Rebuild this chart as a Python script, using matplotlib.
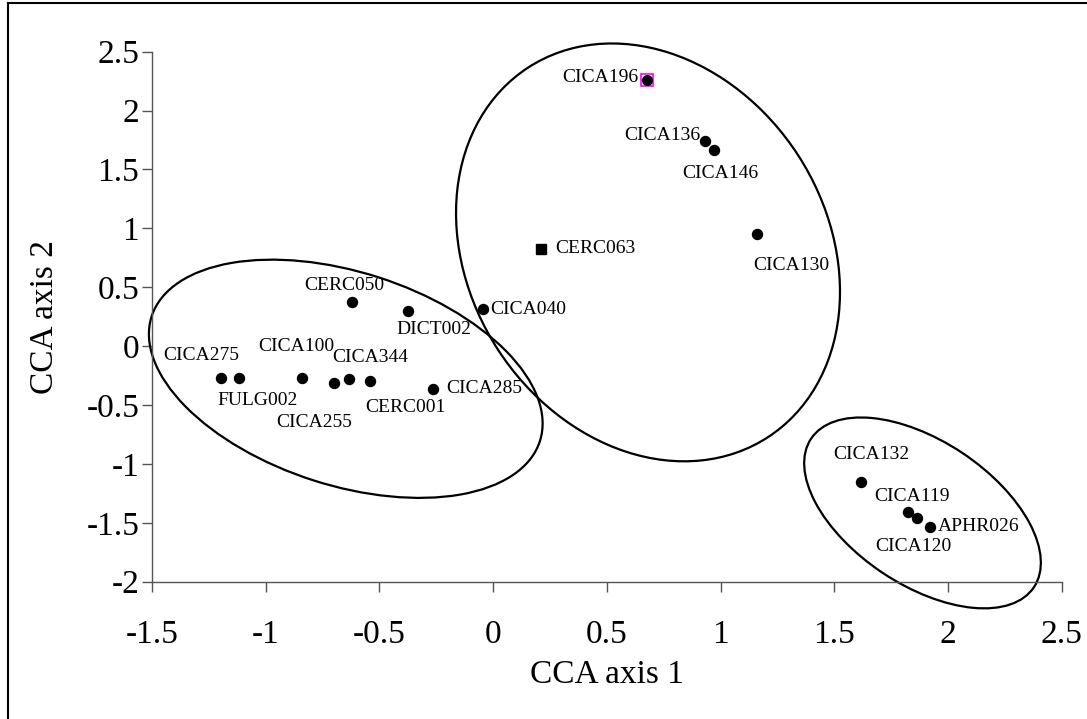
import matplotlib
matplotlib.use("Agg")
import matplotlib.pyplot as plt
from matplotlib.patches import Ellipse
from matplotlib.lines import Line2D
import matplotlib.transforms as mtransforms

plt.rcParams['font.family'] = ['Liberation Serif', 'DejaVu Serif']

# ---- data ----
labels = ["CICA275", "FULG002", "CICA100", "CICA255", "CICA344", "CERC001",
          "CICA285", "CERC050", "DICT002", "CICA040", "CICA196", "CICA136",
          "CICA146", "CERC063", "CICA130", "CICA132", "CICA119", "CICA120",
          "APHR026"]
axis1 = [-1.197, -1.117, -0.840, -0.698, -0.635, -0.541,
         -0.263, -0.619, -0.374, -0.043, 0.678, 0.932,
         0.970, 0.211, 1.160, 1.618, 1.823, 1.863,
         1.920]
axis2 = [-0.267, -0.267, -0.267, -0.312, -0.281, -0.296,
         -0.361, 0.373, 0.296, 0.313, 2.260, 1.745,
         1.668, 0.825, 0.952, -1.153, -1.410, -1.458,
         -1.532]
kind = ["o"] * 13 + ["s"] + ["o"] * 5

xticks = [-1.5, -1, -0.5, 0, 0.5, 1, 1.5, 2, 2.5]
xticklabels = ["-1.5", "-1", "-0.5", "0", "0.5", "1", "1.5", "2", "2.5"]
yticks = [-2, -1.5, -1, -0.5, 0, 0.5, 1, 1.5, 2, 2.5]
yticklabels = ["-2", "-1.5", "-1", "-0.5", "0", "0.5", "1", "1.5", "2", "2.5"]

# group ellipses: centre (data units), full width / height (inches), angle (deg)
ell_centres = [(-0.648, -0.277), (0.681, 0.796), (1.888, -1.416)]
ell_sizes = [(4.078, 2.132, -17.8), (4.406, 3.576, -57.1), (2.678, 1.44, -33.7)]

# label layout: offset in pixels (dx, dy) and horizontal alignment
label_layout = {
    "CICA275": (-20, 22, "center"), "FULG002": (18, -23, "center"),
    "CICA100": (-6, 31, "center"), "CICA255": (-20, -40, "center"),
    "CICA344": (22, 22, "center"), "CERC001": (35, -26, "center"),
    "CICA285": (13, 0, "left"), "CERC050": (-8, 17, "center"),
    "DICT002": (26, -18, "center"), "CICA040": (7, 0, "left"),
    "CICA196": (-9, 2, "right"), "CICA136": (-5, 5, "right"),
    "CICA146": (7, -24, "center"), "CERC063": (14, 0, "left"),
    "CICA130": (34, -31, "center"), "CICA132": (10, 27, "center"),
    "CICA119": (4, 16, "center"), "CICA120": (-3, -29, "center"),
    "APHR026": (8, 0, "left"),
}

fig = plt.figure(figsize=(10.87, 7.19), dpi=100)
ax = fig.add_axes([152 / 1087, 137.3 / 719, 909.7 / 1087, 530 / 719])

for name, xv, yv, mk in zip(labels, axis1, axis2, kind):
    if name == "CICA196":
        ax.plot([xv], [yv], marker="s", ms=8, mfc="none", mec="magenta",
                mew=1.2, ls="none", zorder=3)
        ax.plot([xv], [yv], marker="o", ms=7, color="black", ls="none", zorder=4)
    elif mk == "s":
        ax.plot([xv], [yv], marker="s", ms=7, color="black", ls="none", zorder=3)
    else:
        ax.plot([xv], [yv], marker="o", ms=7.2, color="black", ls="none", zorder=3)
    dx, dy, ha = label_layout[name]
    ax.annotate(name, (xv, yv), xytext=(dx, dy), textcoords="offset pixels",
                ha=ha, va="center", fontsize=14, color="black")

for (cx, cy), (w_, h_, ang) in zip(ell_centres, ell_sizes):
    tr = fig.dpi_scale_trans + mtransforms.ScaledTranslation(cx, cy, ax.transData)
    e = Ellipse((0, 0), w_, h_, angle=ang, transform=tr, fill=False,
                edgecolor="black", lw=1.6, zorder=2, clip_on=False)
    ax.add_patch(e)

ax.set_xlim(-1.5, 2.5)
ax.set_ylim(-2, 2.5)
ax.set_xticks(xticks)
ax.set_xticklabels(xticklabels)
ax.set_yticks(yticks)
ax.set_yticklabels(yticklabels)
for s_ in ("top", "right"):
    ax.spines[s_].set_visible(False)
for s_ in ("left", "bottom"):
    ax.spines[s_].set_color("#555555")
    ax.spines[s_].set_linewidth(1.0)
ax.tick_params(axis="both", direction="out", length=7.2, width=1.0,
               color="#555555", labelsize=24)
ax.tick_params(axis="x", pad=20)
ax.tick_params(axis="y", pad=2)

ax.set_xlabel("CCA axis 1", fontsize=24)
ax.set_ylabel("CCA axis 2", fontsize=24)
ax.xaxis.set_label_coords(0.5, -0.176)
ax.xaxis.label.set_va("center")
ax.yaxis.set_label_coords(-0.1176, 0.5)
ax.yaxis.label.set_va("center")

# outer frame (left and top edges visible)
fig.add_artist(Line2D([8 / 1087, 8 / 1087], [0, 1 - 3 / 719],
                      transform=fig.transFigure, color="black", lw=1.5))
fig.add_artist(Line2D([8 / 1087, 1], [1 - 3 / 719, 1 - 3 / 719],
                      transform=fig.transFigure, color="black", lw=1.5))

fig.savefig("out.png", dpi=100)
